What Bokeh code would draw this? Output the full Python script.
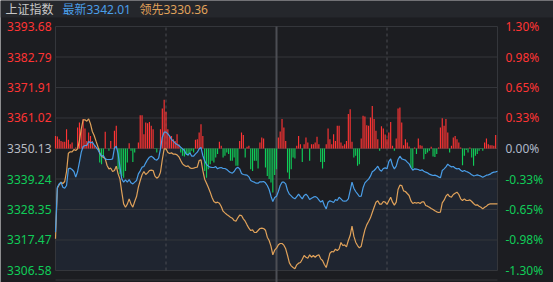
import numpy as np
from bokeh.plotting import figure
from bokeh.models import Range1d
from bokeh.core.properties import value
from bokeh.embed import file_html
from bokeh.resources import INLINE

# ---------------- data ----------------
index_name = "上证指数"
prev_close = 3350.13

price_ticks = [3393.68, 3382.79, 3371.91, 3361.02, 3350.13, 3339.24, 3328.35, 3317.47, 3306.58]
price_labels = ["3393.68", "3382.79", "3371.91", "3361.02", "3350.13", "3339.24", "3328.35", "3317.47", "3306.58"]
pct_labels = ["1.30%", "0.98%", "0.65%", "0.33%", "0.00%", "-0.33%", "-0.65%", "-0.98%", "-1.30%"]

# minute index 0..240 (09:30 .. 15:00, lunch break removed)
minutes = list(range(241))

latest = [
    3320.26, 3336.32, 3337.51, 3338.11, 3336.32, 3335.97, 3336.92, 3342.87, 3343.11, 3342.63,
    3341.92, 3339.89, 3341.92, 3345.25, 3348.82, 3350.84, 3351.20, 3351.20, 3352.63, 3352.15,
    3352.39, 3351.44, 3350.60, 3349.77, 3348.58, 3347.39, 3347.63, 3346.44, 3346.20, 3346.20,
    3346.20, 3346.44, 3350.25, 3350.96, 3348.22, 3343.46, 3339.30, 3338.11, 3338.94, 3338.11,
    3339.06, 3337.87, 3337.51, 3338.11, 3338.70, 3341.08, 3342.16, 3343.46, 3343.70, 3345.01,
    3346.20, 3347.03, 3347.39, 3346.92, 3346.20, 3345.96, 3346.68, 3350.01, 3354.17, 3355.96,
    3355.96, 3355.36, 3354.53, 3353.34, 3352.75, 3352.03, 3351.56, 3351.20, 3350.60, 3350.01,
    3349.41, 3348.11, 3347.87, 3348.58, 3347.39, 3347.39, 3348.22, 3348.82, 3350.01, 3350.49,
    3347.63, 3345.73, 3344.42, 3343.82, 3343.46, 3343.35, 3343.35, 3343.70, 3342.87, 3343.23,
    3343.35, 3342.99, 3342.99, 3342.63, 3342.04, 3341.56, 3341.32, 3341.92, 3342.99, 3343.46,
    3342.87, 3341.20, 3340.85, 3340.73, 3340.61, 3340.01, 3338.70, 3338.35, 3338.11, 3337.75,
    3337.75, 3338.23, 3338.23, 3338.35, 3337.87, 3336.92, 3335.49, 3333.11, 3331.21, 3332.64,
    3333.11, 3334.78, 3336.92, 3338.11, 3338.11, 3337.51, 3335.13, 3333.83, 3333.23, 3332.52,
    3332.16, 3332.99, 3333.83, 3332.99, 3332.16, 3333.35, 3333.83, 3333.11, 3331.92, 3332.40,
    3332.75, 3332.99, 3332.64, 3331.80, 3330.97, 3331.56, 3329.78, 3328.59, 3330.97, 3331.45,
    3331.21, 3330.85, 3331.92, 3331.56, 3332.75, 3332.16, 3331.45, 3331.33, 3331.45, 3332.16,
    3335.13, 3338.11, 3335.97, 3334.78, 3333.94, 3332.99, 3333.11, 3336.09, 3337.87, 3338.59,
    3339.18, 3340.25, 3341.80, 3342.27, 3342.99, 3343.82, 3342.51, 3342.04, 3342.99, 3343.23,
    3342.87, 3345.49, 3346.44, 3344.06, 3342.87, 3343.82, 3346.20, 3347.39, 3346.44, 3346.20,
    3345.96, 3345.25, 3344.65, 3343.35, 3342.39, 3342.87, 3342.75, 3342.63, 3342.27, 3342.51,
    3342.04, 3341.68, 3341.44, 3340.97, 3340.73, 3340.49, 3340.61, 3340.37, 3340.01, 3339.66,
    3342.27, 3342.87, 3343.58, 3344.54, 3343.94, 3343.58, 3343.70, 3343.11, 3342.87, 3342.99,
    3342.39, 3341.92, 3342.27, 3341.92, 3341.68, 3341.32, 3340.73, 3340.37, 3340.49, 3340.73,
    3340.49, 3340.25, 3339.89, 3340.25, 3340.61, 3340.73, 3340.97, 3341.44, 3341.68, 3341.80,
    3342.01,
]

leading = [
    3317.88, 3335.97, 3337.16, 3338.11, 3337.63, 3338.35, 3341.92, 3348.46, 3348.94, 3348.94,
    3349.77, 3349.41, 3350.01, 3352.98, 3357.15, 3360.36, 3360.36, 3359.89, 3360.72, 3358.93,
    3356.20, 3354.77, 3352.75, 3350.84, 3348.46, 3347.27, 3347.03, 3346.44, 3344.06, 3342.87,
    3343.11, 3341.92, 3342.27, 3343.82, 3341.08, 3339.18, 3334.54, 3330.37, 3329.18, 3330.26,
    3332.16, 3330.26, 3329.18, 3331.21, 3332.99, 3336.32, 3338.70, 3340.73, 3341.92, 3340.85,
    3341.44, 3342.27, 3342.39, 3342.27, 3340.25, 3339.54, 3340.01, 3341.68, 3346.20, 3350.01,
    3350.01, 3348.70, 3348.34, 3348.58, 3348.11, 3348.11, 3347.87, 3347.15, 3345.84, 3344.65,
    3344.06, 3343.70, 3343.94, 3343.23, 3342.99, 3343.11, 3343.35, 3343.46, 3345.84, 3346.08,
    3342.27, 3339.18, 3337.75, 3336.21, 3334.54, 3332.64, 3331.21, 3330.73, 3330.97, 3330.61,
    3329.42, 3327.76, 3327.16, 3326.57, 3326.09, 3325.61, 3325.26, 3324.42, 3324.19, 3325.38,
    3326.33, 3326.21, 3325.02, 3324.19, 3322.88, 3321.69, 3320.85, 3321.09, 3320.14, 3320.14,
    3320.85, 3321.57, 3321.69, 3321.57, 3320.97, 3318.47, 3317.28, 3315.26, 3312.17, 3313.83,
    3314.55, 3315.74, 3316.21, 3316.21, 3315.62, 3314.31, 3311.93, 3309.31, 3308.24, 3307.65,
    3307.17, 3308.60, 3309.19, 3309.43, 3310.62, 3311.93, 3311.33, 3310.98, 3312.17, 3311.33,
    3311.93, 3311.33, 3311.93, 3312.17, 3310.74, 3310.14, 3308.72, 3307.65, 3310.14, 3312.76,
    3313.36, 3313.24, 3314.19, 3313.71, 3314.31, 3316.57, 3315.50, 3315.74, 3315.02, 3317.28,
    3319.07, 3322.40, 3318.83, 3316.69, 3315.50, 3314.67, 3315.26, 3318.36, 3321.09, 3322.88,
    3324.07, 3325.38, 3327.28, 3329.18, 3330.97, 3331.45, 3330.26, 3330.26, 3331.21, 3330.97,
    3330.14, 3331.45, 3332.75, 3330.97, 3329.90, 3330.97, 3335.49, 3337.04, 3336.92, 3335.02,
    3334.78, 3334.06, 3333.35, 3331.45, 3330.49, 3330.85, 3330.61, 3330.85, 3330.49, 3331.09,
    3331.09, 3329.78, 3329.54, 3329.18, 3328.71, 3328.35, 3327.88, 3327.52, 3327.28, 3327.40,
    3330.73, 3331.68, 3333.11, 3333.83, 3332.99, 3332.75, 3333.71, 3334.18, 3334.54, 3333.71,
    3332.16, 3331.56, 3332.16, 3331.56, 3331.56, 3331.80, 3331.21, 3330.49, 3329.90, 3330.02,
    3329.54, 3329.18, 3328.59, 3329.18, 3329.54, 3330.14, 3330.37, 3330.37, 3330.37, 3330.37,
    3330.36,
]

# red/green strength bars, in index points above/below the previous close
strength = [
    4.5, 4.3, 3.3, 2.7, 2.4, 2.4, 6.9, 3.1, 1.5, 2.1,
    0, 0.4, 7.5, 9.3, 6.9, 10.5, 7.1, 2.7, 5.7, 4.5,
    2.7, 1.2, 0.2, 0, -5.0, -5.6, -3.2, 6.0, 0, -0.8,
    2.7, 0, 6.3, 8.1, -7.4, -9.2, -9.8, -10.4, -8.0, -5.0,
    1.9, -0.8, -4.8, -1.4, 0, 2.1, 11.9, 11.9, 5.1, 9.3,
    9.0, 9.5, 8.1, 6.9, -0.2, -1.4, 0, 6.9, 14.3, 17.4,
    13.1, 6.9, 4.5, 4.5, 3.3, 2.7, 5.1, 1.5, -1.4, -2.6,
    -2.9, -2.0, -2.6, -2.0, -0.8, -1.4, 3.1, 3.3, 5.7, 8.7,
    4.5, -8.0, -10.4, -7.4, -5.6, -4.4, -5.0, -3.2, -2.0, 2.4,
    1.0, -3.2, -2.6, -1.4, -2.0, -4.4, -4.4, -3.2, -6.2, -6.2,
    2.7, 5.7, 4.8, -3.2, 0.6, 1.0, -7.4, -8.0, -4.4, -4.4,
    -7.1, 2.1, 3.9, 3.6, -6.8, -9.8, -10.9, -12.1, -15.7, -9.5,
    -7.4, 3.9, 6.1, 10.5, 7.5, 2.7, -8.6, -10.9, -7.4, -3.2,
    -3.6, 1.0, 4.5, 1.5, -4.8, 1.5, 3.9, 2.1, -4.4, 1.5,
    1.5, 2.1, 4.2, 1.5, -4.8, -7.1, -4.8, 1.5, 7.1, 3.3,
    1.5, 5.1, 2.7, 8.1, 8.1, 2.1, 1.0, 1.5, 2.7, 12.3,
    14.0, 2.4, -3.2, -2.6, -6.2, -5.6, 3.6, 11.7, 11.4, 8.3,
    8.1, 11.1, 15.2, 10.5, 6.3, 3.3, -0.8, 7.9, 7.1, 5.0,
    3.3, 5.7, 9.5, 1.0, -0.8, 3.6, 14.3, 14.6, 9.3, 1.2,
    3.3, 2.1, 0.7, -6.8, -7.1, 0.4, -2.0, 3.6, 1.2, 1.0,
    -3.8, -2.0, -1.4, -0.8, 0.6, -2.9, -3.0, -2.0, 0.4, 7.5,
    10.8, 8.1, 10.5, 5.7, -1.4, 1.0, 3.9, 4.5, 3.3, 2.1,
    0.4, -6.0, -2.6, -0.5, -1.4, 0.4, -3.2, -6.2, -2.6, -2.0,
    -0.8, -0.2, -0.8, 2.1, 3.6, 1.5, 1.2, 1.2, 1.0, 4.8,
    0,
]

# ---------------- layout helpers (pixel -> data) ----------------
W, H = 553, 282
FRAME_L, FRAME_R, FRAME_T, FRAME_B = 55, 497, 26, 270
n_min = len(minutes) - 1
xs = (FRAME_R - FRAME_L) / n_min
ys = (price_ticks[0] - price_ticks[-1]) / (FRAME_B - FRAME_T)


def X(px):
    return (px - FRAME_L) / xs


def Y(py):
    return price_ticks[0] - (py - FRAME_T) * ys


BG = "#1c1d21"
GRID = "#34363b"
RED = "#ff3434"
GREEN = "#10cc58"
BLUE = "#4a9ee8"
ORANGE = "#e0a25a"
FONT = value("Noto Sans, Noto Sans CJK SC")

p = figure(width=W, height=H, output_backend="svg", toolbar_location=None,
           x_range=Range1d(X(0), X(W)), y_range=Range1d(Y(H), Y(0)),
           min_border=0, background_fill_color=BG, border_fill_color=BG)
p.title.visible = False
p.axis.visible = False
p.grid.visible = False
p.outline_line_color = None

# header band
p.quad(left=X(0), right=X(W), bottom=Y(17), top=Y(0), fill_color="#25272c", line_color=None)

# area under the latest-price line
p.varea(x=minutes, y1=latest, y2=price_ticks[-1], fill_color="#1f2530")

# horizontal grid
p.segment(x0=minutes[0], x1=minutes[-1], y0=price_ticks, y1=price_ticks, line_color=GRID, line_width=1)
# lower panel edge
p.segment(x0=minutes[0], x1=minutes[-1], y0=Y(279.5), y1=Y(279.5), line_color=GRID, line_width=1)
# frame borders
p.segment(x0=[minutes[0], minutes[-1]], x1=[minutes[0], minutes[-1]],
          y0=price_ticks[-1], y1=price_ticks[0], line_color=GRID, line_width=1)
# hour dividers
p.segment(x0=[60, 180], x1=[60, 180], y0=price_ticks[-1], y1=price_ticks[0],
          line_color="#4a4c52", line_width=1, line_dash="3 3")
p.segment(x0=[120], x1=[120], y0=Y(282), y1=price_ticks[0], line_color="#4c4e54", line_width=2)

# strength bars
s = np.array(strength)
m = np.array(minutes)
up = s > 0
dn = s < 0
p.vbar(x=m[up], bottom=prev_close, top=prev_close + s[up], width=0.62, fill_color=RED, line_color=None)
p.vbar(x=m[dn], bottom=prev_close, top=prev_close + s[dn], width=0.62, fill_color=GREEN, line_color=None)

# lines
p.line(minutes, leading, line_color=ORANGE, line_width=1.2)
p.line(minutes, latest, line_color=BLUE, line_width=1.2)

# axis labels
def tick_color(v):
    if v > prev_close + 1e-9:
        return RED
    if v < prev_close - 1e-9:
        return GREEN
    return None

left_cols = [tick_color(v) or "#b8bbc2" for v in price_ticks]
right_cols = [tick_color(v) or "#aeb8c8" for v in price_ticks]
p.text(x=X(51), y=price_ticks, text=price_labels, text_align="right", text_baseline="middle",
       text_color=left_cols, text_font=FONT, text_font_size="12px")
p.text(x=X(505), y=price_ticks, text=pct_labels, text_align="left", text_baseline="middle",
       text_color=right_cols, text_font=FONT, text_font_size="12px")

# header texts
p.text(x=[X(5)], y=[Y(8.5)], text=[index_name], text_baseline="middle",
       text_color="#c8c8c8", text_font=FONT, text_font_size="12px")
p.text(x=[X(62)], y=[Y(8.5)], text=["最新%.2f" % latest[-1]], text_baseline="middle",
       text_color=BLUE, text_font=FONT, text_font_size="12px")
p.text(x=[X(139)], y=[Y(8.5)], text=["领先%.2f" % leading[-1]], text_baseline="middle",
       text_color=ORANGE, text_font=FONT, text_font_size="12px")

open("out.html", "w").write(file_html(p, INLINE))
